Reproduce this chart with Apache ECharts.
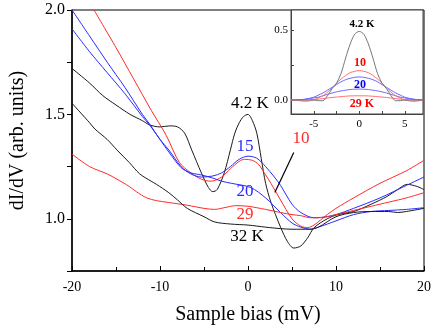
<!DOCTYPE html>
<html><head><meta charset="utf-8">
<script src="https://cdn.jsdelivr.net/npm/echarts@6/dist/echarts.min.js"></script>
<style>html,body{margin:0;padding:0;background:#fff}#c{width:436px;height:332px}</style>
</head><body><div id="c"></div>
<script>
// ---- main panel data (bias in mV, dI/dV arb. units) ----
const bias42 = [-20,-18,-16.5,-15,-13.4,-12,-11.2,-10,-8.9,-8,-7.2,-6.4,-5.3,-4.5,-4,-3.5,-2.7,-2,-1.5,-1,-0.5,0,0.5,1,1.5,2,2.6,3.7,4.5,5.2,6,6.8,7.5,9,10.2,12,14,15.8,17,18.1,19.2,20];
const didv42 = [1.72,1.65,1.59,1.545,1.50,1.47,1.45,1.44,1.445,1.44,1.41,1.33,1.22,1.15,1.13,1.14,1.22,1.33,1.41,1.46,1.49,1.50,1.47,1.41,1.29,1.17,1.08,0.96,0.89,0.86,0.87,0.91,0.957,1.0,1.02,1.035,1.07,1.107,1.14,1.165,1.155,1.14];
const bias10 = [-17.5,-15,-13,-11,-9.3,-7.8,-6.5,-5.3,-4.2,-3,-2,-1,-0.4,0.5,1.2,2,2.6,3.7,5,6,6.8,7.5,9,10,12,15,18,20];
const didv10 = [2.0,1.82,1.67,1.52,1.40,1.27,1.22,1.19,1.18,1.20,1.24,1.275,1.285,1.28,1.26,1.21,1.17,1.09,1.0,0.965,0.958,0.97,1.02,1.05,1.10,1.17,1.23,1.28];
const bias15 = [-20,-18,-16,-14,-12,-11.2,-10,-9,-7.6,-6.5,-5.3,-4,-3,-2,-1,0,1,2,3,3.7,5,6,7.5,9,10,12,15,18,20];
const didv15 = [2.0,1.875,1.75,1.63,1.50,1.455,1.38,1.33,1.25,1.215,1.20,1.205,1.22,1.25,1.285,1.30,1.29,1.25,1.20,1.16,1.07,1.03,1.005,1.01,1.02,1.05,1.10,1.16,1.20];
const bias20 = [-20,-18,-16,-14,-12,-11.2,-10,-9,-7.6,-6.5,-5.3,-4,-3,-1.9,0.3,2,3.7,5,6,7.1,8,10,12,14,16,18,20];
const didv20 = [1.91,1.80,1.70,1.60,1.49,1.45,1.38,1.32,1.245,1.22,1.21,1.195,1.18,1.17,1.15,1.10,1.03,0.98,0.96,0.95,0.96,0.99,1.02,1.035,1.04,1.045,1.053];
const bias29 = [-20,-18,-16,-14.9,-13.5,-12.7,-11.5,-10.4,-9,-6.9,-5,-3.8,-2.5,-1.4,0,2,3.7,5,6,7.1,8,10,12,14,16,18,20];
const didv29 = [1.31,1.25,1.215,1.19,1.155,1.13,1.10,1.087,1.078,1.065,1.05,1.045,1.055,1.063,1.06,1.045,1.03,1.02,1.015,1.005,1.005,1.02,1.04,1.06,1.08,1.10,1.125];
const bias32 = [-20,-18,-17.4,-16,-14.9,-13.5,-12.3,-11,-10.4,-9,-8,-6.9,-5,-3.8,-2,0,2,3.7,5,7,8,10,12,14,16,17,18,20];
const didv32 = [1.553,1.46,1.43,1.38,1.33,1.27,1.215,1.18,1.165,1.125,1.09,1.05,1.01,0.985,0.975,0.97,0.96,0.953,0.95,0.95,0.96,1.01,1.03,1.035,1.035,1.03,1.035,1.05];

// arrow annotation (data coords): from label "10" to the 10 K curve
const arrowFrom = [5.2, 1.318];
const arrowTo = [3.05, 1.126];

// axis ticks / labels
const mainYTicks = [0.75,1.0,1.25,1.5,1.75,2.0];
const mainYLabels = [1.0,1.5,2.0];
const insetYTicks = [0,0.25,0.5];
const insetYLabels = [0,0.5];

// ---- inset data ----
const insetBias = [-7.5,-7,-6,-5,-4.5,-4,-3.5,-3,-2.5,-2,-1.5,-1,-0.5,0,0.5,1,1.5,2,2.5,3,3.5,4,4.5,5,6,7];
const inset42 = [0,0,0,0,-0.005,-0.005,0.03,0.08,0.12,0.19,0.30,0.40,0.47,0.49,0.47,0.40,0.30,0.19,0.12,0.08,0.03,-0.005,-0.005,0,0,0];
const inset10 = [0,0,-0.01,0,0.015,0.03,0.055,0.085,0.12,0.15,0.175,0.195,0.205,0.21,0.205,0.195,0.175,0.15,0.12,0.085,0.055,0.03,0.015,0,-0.01,0];
const inset15 = [0,0,0.005,0.02,0.035,0.05,0.07,0.09,0.11,0.13,0.145,0.155,0.162,0.165,0.162,0.155,0.145,0.13,0.11,0.09,0.07,0.05,0.035,0.02,0.005,0];
const inset20 = [0,0,0.005,0.015,0.02,0.03,0.04,0.05,0.058,0.065,0.07,0.075,0.077,0.078,0.077,0.075,0.07,0.065,0.058,0.05,0.04,0.03,0.02,0.015,0.005,0];
const inset29 = [0,0,0,0.003,0.006,0.01,0.014,0.018,0.021,0.024,0.027,0.029,0.03,0.03,0.03,0.029,0.027,0.024,0.021,0.018,0.014,0.01,0.006,0.003,0,0];

const BLACK = '#1a1a1a', RED = '#ff2a2a', BLUE = '#2a2aff';
const FONT = '"Liberation Serif","Times New Roman",serif';
const pairs = (xs, ys) => xs.map((x, i) => [x, ys[i]]);

function mainLine(xs, ys, color, extra) {
  return Object.assign({
    type: 'line', xAxisIndex: 0, yAxisIndex: 0, data: pairs(xs, ys),
    showSymbol: false, symbol: 'none', smooth: 0.3, clip: true,
    lineStyle: { color: color, width: 1 }, silent: true, z: 3
  }, extra || {});
}
function insetLine(ys, color) {
  return {
    type: 'line', xAxisIndex: 1, yAxisIndex: 1, data: pairs(insetBias, ys),
    showSymbol: false, symbol: 'none', smooth: 0.3, clip: true,
    lineStyle: { color: color, width: 1 }, silent: true, z: 6
  };
}

const chart = echarts.init(document.getElementById('c'), null, { renderer: 'canvas' });
chart.setOption({
  animation: false,
  backgroundColor: '#fff',
  grid: [
    { left: 70, right: 12, top: 10, bottom: 61, show: true, borderColor: '#000', borderWidth: 1, backgroundColor: 'transparent' },
    { left: 291, top: 10, width: 132, height: 104, show: true, borderColor: '#444', borderWidth: 1, backgroundColor: '#fff', z: 5 }
  ],
  xAxis: [
    {
      gridIndex: 0, type: 'value', min: -20, max: 20, interval: 10,
      name: 'Sample bias (mV)', nameLocation: 'middle', nameGap: 34,
      nameTextStyle: { fontFamily: FONT, fontSize: 20, color: '#000' },
      axisLine: { onZero: false, lineStyle: { color: '#000', width: 1.5 } },
      axisTick: { inside: true, length: 5, lineStyle: { color: '#000' } },
      minorTick: { show: true, splitNumber: 2, length: 4, lineStyle: { color: '#000' } },
      splitLine: { show: false },
      axisLabel: { fontFamily: FONT, fontSize: 14, color: '#000', margin: 9 }
    },
    {
      gridIndex: 1, type: 'value', min: -7.5, max: 7, interval: 2.5, z: 6,
      axisLine: { onZero: false, lineStyle: { color: '#444', width: 1 } },
      axisTick: { inside: true, length: 3, lineStyle: { color: '#444' } },
      splitLine: { show: false },
      axisLabel: { fontFamily: FONT, fontSize: 11, color: '#000', margin: 5,
        showMinLabel: false, showMaxLabel: false,
        formatter: v => (Math.abs(v % 5) < 1e-9 ? String(v) : '') }
    }
  ],
  yAxis: [
    {
      gridIndex: 0, type: 'value', min: 0.75, max: 2.0,
      name: 'dI/dV (arb. units)', nameLocation: 'middle', nameGap: 44,
      nameTextStyle: { fontFamily: FONT, fontSize: 20, color: '#000' },
      axisLine: { onZero: false, lineStyle: { color: '#000', width: 1.5 } },
      axisTick: { inside: false, length: 5, customValues: mainYTicks, lineStyle: { color: '#000' } },
      splitLine: { show: false },
      axisLabel: { fontFamily: FONT, fontSize: 16, color: '#000', margin: 7,
        customValues: mainYLabels, formatter: v => v.toFixed(1) }
    },
    {
      gridIndex: 1, type: 'value', min: -0.1, max: 0.643, z: 6,
      axisLine: { onZero: false, lineStyle: { color: '#444', width: 1 } },
      axisTick: { inside: true, length: 3, customValues: insetYTicks, lineStyle: { color: '#444' } },
      splitLine: { show: false },
      axisLabel: { fontFamily: FONT, fontSize: 11, color: '#000', margin: 3,
        customValues: insetYLabels, formatter: v => v.toFixed(1) }
    }
  ],
  series: [
    mainLine(bias42, didv42, BLACK),
    mainLine(bias10, didv10, RED, {
      markLine: {
        silent: true, symbol: ['none', 'arrow'], symbolSize: [0, 9],
        label: { show: false },
        lineStyle: { color: '#000', width: 1.2, type: 'solid' },
        data: [[{ coord: arrowFrom }, { coord: arrowTo }]]
      }
    }),
    mainLine(bias15, didv15, BLUE),
    mainLine(bias20, didv20, BLUE),
    mainLine(bias29, didv29, RED),
    mainLine(bias32, didv32, BLACK),
    insetLine(inset29, '#ff7070'),
    insetLine(inset20, '#6a6aff'),
    insetLine(inset15, '#6a6aff'),
    insetLine(inset10, '#ff7070'),
    insetLine(inset42, '#777777')
  ],
  graphic: [
    { type: 'text', x: 250, y: 104, z: 10, style: { text: '4.2 K', font: '17px ' + FONT, fill: '#000', align: 'center', verticalAlign: 'middle' } },
    { type: 'text', x: 245, y: 147, z: 10, style: { text: '15', font: '17px ' + FONT, fill: BLUE, align: 'center', verticalAlign: 'middle' } },
    { type: 'text', x: 301, y: 139, z: 10, style: { text: '10', font: '17px ' + FONT, fill: RED, align: 'center', verticalAlign: 'middle' } },
    { type: 'text', x: 245, y: 192, z: 10, style: { text: '20', font: '17px ' + FONT, fill: BLUE, align: 'center', verticalAlign: 'middle' } },
    { type: 'text', x: 245, y: 215, z: 10, style: { text: '29', font: '17px ' + FONT, fill: RED, align: 'center', verticalAlign: 'middle' } },
    { type: 'text', x: 247, y: 237, z: 10, style: { text: '32 K', font: '17px ' + FONT, fill: '#000', align: 'center', verticalAlign: 'middle' } },
    { type: 'text', x: 362, y: 24, z: 10, style: { text: '4.2 K', font: 'bold 11px ' + FONT, fill: '#000', align: 'center', verticalAlign: 'middle' } },
    { type: 'text', x: 360, y: 63, z: 10, style: { text: '10', font: 'bold 12px ' + FONT, fill: '#ff0000', align: 'center', verticalAlign: 'middle' } },
    { type: 'text', x: 360, y: 85, z: 10, style: { text: '20', font: 'bold 12px ' + FONT, fill: '#0000ff', align: 'center', verticalAlign: 'middle' } },
    { type: 'text', x: 362, y: 104, z: 10, style: { text: '29 K', font: 'bold 12px ' + FONT, fill: '#ff0000', align: 'center', verticalAlign: 'middle' } }
  ]
});
</script></body></html>
